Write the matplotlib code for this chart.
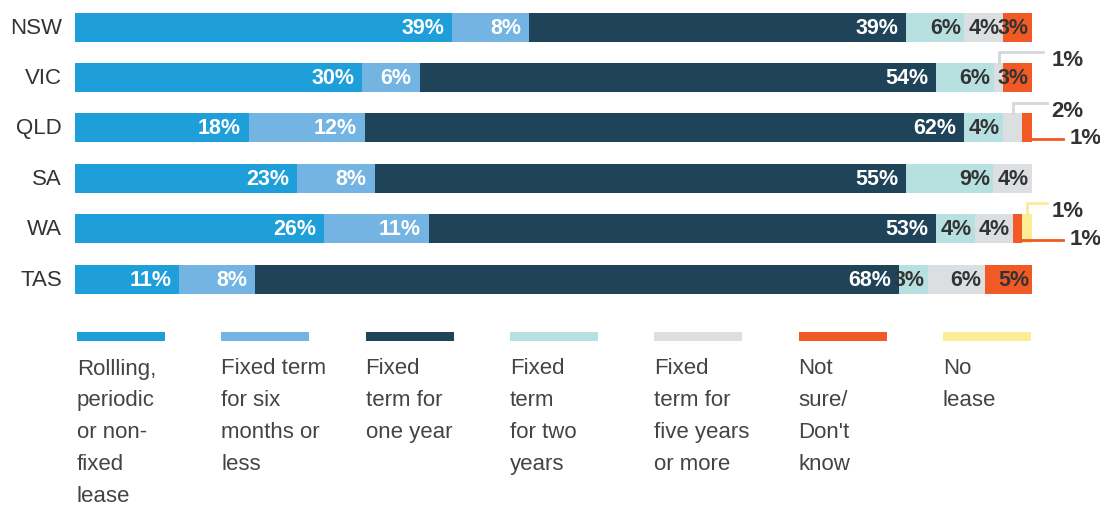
import matplotlib.pyplot as plt
import matplotlib.patches as patches

plt.rcParams['font.family'] = ['Liberation Sans', 'DejaVu Sans']

states = ['NSW', 'VIC', 'QLD', 'SA', 'WA', 'TAS']
categories = ['Rollling,\nperiodic\nor non-\nfixed\nlease',
              'Fixed term\nfor six\nmonths or\nless',
              'Fixed\nterm for\none year',
              'Fixed\nterm\nfor two\nyears',
              'Fixed\nterm for\nfive years\nor more',
              'Not\nsure/\nDon\'t\nknow',
              'No\nlease']
rolling   = [39, 30, 18, 23, 26, 11]
six_month = [8, 6, 12, 8, 11, 8]
one_year  = [39, 54, 62, 55, 53, 68]
two_year  = [6, 6, 4, 9, 4, 3]
five_year = [4, 1, 2, 4, 4, 6]
not_sure  = [3, 3, 1, 0, 1, 5]
no_lease  = [0, 0, 0, 0, 1, 0]
series = [rolling, six_month, one_year, two_year, five_year, not_sure, no_lease]

colors = ['#1f9fda', '#74b4e3', '#1f4358', '#b6e1e0', '#dcdfe1', '#f15a24', '#fcec96']
text_colors = ['white', 'white', 'white', '#333333', '#333333', '#333333', '#333333']

# each bar is shown as a full 100% (rounded shares don't add up exactly)
totals = [sum(s[i] for s in series) for i in range(len(states))]
scaled = [[v * 100 / totals[i] for i, v in enumerate(s)] for s in series]

W, H = 1100, 506
fig = plt.figure(figsize=(W / 100, H / 100), dpi=100)
# axes spanning x px 75..1032 (0..100%), y px 0..310
ax = fig.add_axes([75 / W, 1 - 310 / H, 957 / W, 310 / H])
ax.set_xlim(0, 100)
ax.set_ylim(5.595, -0.556)
ax.axis('off')

ypos = list(range(len(states)))
left = [0] * len(states)
for s, vals in enumerate(scaled):
    ax.barh(ypos, vals, left=left, height=0.575, color=colors[s], linewidth=0)
    pad = -8 if text_colors[s] == 'white' else -3
    for i, v in enumerate(vals):
        if series[s][i] >= 3:
            ax.annotate(f'{series[s][i]}%', (left[i] + v, i), xytext=(pad, 0),
                        textcoords='offset pixels', annotation_clip=False,
                        ha='right', va='center', fontsize=15.5, fontweight='bold',
                        color=text_colors[s])
    left = [l + v for l, v in zip(left, vals)]

for i, st in enumerate(states):
    ax.text(-1.35, i, st, ha='right', va='center', fontsize=16, color='#333333')

def seg_start(i, s):
    return sum(scaled[k][i] for k in range(s))

def callout(i, s, side, color, x_end, x_text, x_off=0.5):
    label = f'{series[s][i]}%'
    x_seg = seg_start(i, s) + x_off * scaled[s][i]
    if side == 'top':
        ys = i - 0.29
        yl = i - 0.5
        ax.plot([x_seg, x_seg, x_end], [ys, yl, yl], color=color, lw=2, clip_on=False,
                solid_joinstyle='miter')
        ax.text(x_text, yl + 0.15, label, ha='left', va='center', fontsize=16,
                fontweight='bold', color='#333333', clip_on=False)
    else:
        x_seg = seg_start(i, s) + scaled[s][i]
        yl = i + 0.22
        ax.plot([x_seg, x_end], [yl, yl], color=color, lw=2, clip_on=False)
        ax.text(x_text, yl - 0.02, label, ha='left', va='center', fontsize=16,
                fontweight='bold', color='#333333', clip_on=False)

callout(1, 4, 'top', '#d5d8da', 101.2, 102.0)      # VIC five-year
callout(2, 4, 'top', '#d5d8da', 101.6, 102.0)      # QLD five-year
callout(2, 5, 'bottom', '#f15a24', 103.2, 103.9)   # QLD not sure
callout(4, 6, 'top', '#fcec96', 101.6, 102.0)      # WA no lease
callout(4, 5, 'bottom', '#f15a24', 103.2, 103.9)   # WA not sure

# legend in pixel coordinates
lg = fig.add_axes([0, 0, 1, 1])
lg.set_xlim(0, W)
lg.set_ylim(H, 0)
lg.axis('off')
lg.patch.set_alpha(0)
for k, (lab, c) in enumerate(zip(categories, colors)):
    x0 = 77 + 144.3 * k
    lg.add_patch(patches.Rectangle((x0, 333), 88, 9, color=c, lw=0))
    for j, line in enumerate(lab.split('\n')):
        lg.text(x0, 369 + 32 * j, line, ha='left', va='center', fontsize=16, color='#444444')

fig.savefig('out.png', dpi=100)
